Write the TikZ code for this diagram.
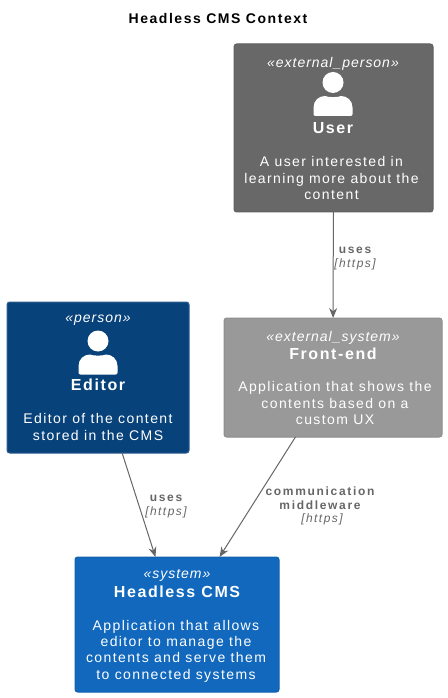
\documentclass[tikz,border=0pt]{standalone}
\usepackage{fontspec}
\usetikzlibrary{arrows.meta}
\setmainfont{Liberation Sans}
\newfontfamily\boxfont[LetterSpace=10]{Liberation Sans}
\newfontfamily\stereofont[LetterSpace=7]{Liberation Sans}
\newfontfamily\headfont[LetterSpace=10]{Liberation Sans}
\newfontfamily\edgefont[LetterSpace=14]{Liberation Sans}
\newfontfamily\techfont[LetterSpace=12]{Liberation Sans}
\newfontfamily\titlefont[LetterSpace=11]{Liberation Sans}
\definecolor{personblue}{HTML}{08427B}
\definecolor{systemblue}{HTML}{1168BD}
\definecolor{extperson}{HTML}{686868}
\definecolor{extsystem}{HTML}{999999}
\definecolor{edgegrey}{HTML}{666666}
\begin{document}
\begin{tikzpicture}[x=0.75pt,y=-0.75pt]
        \tikzstyle{block} = [rounded corners=2pt,inner sep=0pt,outer sep=0pt,line width=0.75pt]
        \tikzstyle{stereo} = [text=white,font=\stereofont\fontsize{10.5}{12}\selectfont\itshape]
        \tikzstyle{heading} = [text=white,font=\headfont\fontsize{12}{14}\selectfont\bfseries]
        \tikzstyle{desc} = [text=white,align=center,font=\boxfont\fontsize{10.5}{12.3}\selectfont]
        \tikzstyle{edgetext} = [text=edgegrey,align=center,font=\edgefont\fontsize{9}{10.6}\selectfont\bfseries]
        \tikzstyle{tech} = [text=edgegrey,font=\techfont\fontsize{9}{10.6}\selectfont\itshape]
        \tikzstyle{rel} = [draw=edgegrey,line width=0.75pt,-{Stealth[length=7.5pt,width=6pt]}]
        \tikzset{personicon/.pic={
            \fill[white] (0,-6) circle (10.5);
            \fill[white] (-17.5,27.5) .. controls (-19,27.5) and (-19.5,26.5) .. (-19.5,25.5)
                -- (-19.5,19) .. controls (-19.5,12) and (-14,7.5) .. (-8,7.5)
                .. controls (-5,9) and (5,9) .. (8,7.5)
                .. controls (14,7.5) and (19.5,12) .. (19.5,19)
                -- (19.5,25.5) .. controls (19.5,26.5) and (19,27.5) .. (17.5,27.5) -- cycle;
        }}

        \useasboundingbox (0,0) rectangle (448,698);

        \node[text=black,font=\titlefont\fontsize{10.5}{12}\selectfont\bfseries] (title) at (218,18.5) {Headless CMS Context};

        \node[block,fill=extperson,draw=extperson!92!black,minimum width=149.25pt,minimum height=126pt] (user) at (333.5,128) {};
        \node[block,fill=personblue,draw=personblue!85!white,minimum width=136.5pt,minimum height=113.25pt] (editor) at (98,377.5) {};
        \node[block,fill=extsystem,draw=extsystem!92!black,minimum width=163.5pt,minimum height=89.25pt] (frontend) at (333,377.5) {};
        \node[block,fill=systemblue,draw=systemblue!92!black,minimum width=153pt,minimum height=101.25pt] (cms) at (177,624.5) {};

        \node[stereo] (userstereo) at (333,63.5) {«external\_person»};
        \pic at (333,88.5) {personicon};
        \node[heading] (username) at (333,128) {User};
        \node[desc] (userdesc) at (331.5,178) {A user interested in\\learning more about the\\content};

        \node[stereo] (editorstereo) at (98,320.5) {«person»};
        \pic at (98,347) {personicon};
        \node[heading] (editorname) at (98,385) {Editor};
        \node[desc] (editordesc) at (98,427) {Editor of the content\\stored in the CMS};

        \node[stereo] (frontstereo) at (333,337.5) {«external\_system»};
        \node[heading] (frontname) at (333,354) {Front-end};
        \node[desc] (frontdesc) at (335,403) {Application that shows the\\contents based on a\\custom UX};

        \node[stereo] (cmsstereo) at (177,575.5) {«system»};
        \node[heading] (cmsname) at (177,592) {Headless CMS};
        \node[desc] (cmsdesc) at (176,651) {Application that allows\\editor to manage the\\contents and serve them\\to connected systems};

        \draw[rel] (user) -- (frontend);
        \draw[rel] (editor) -- (cms);
        \draw[rel] (frontend) -- (cms);

        \node[edgetext] (usesa) at (355,250.5) {uses};
        \node[tech] (techa) at (355,264.5) {[https]};
        \node[edgetext] (usesb) at (166,498.5) {uses};
        \node[tech] (techb) at (166,512.5) {[https]};
        \node[edgetext] (middleware) at (320,498.5) {communication\\middleware};
        \node[tech] (techc) at (322,519.5) {[https]};
\end{tikzpicture}
\end{document}
